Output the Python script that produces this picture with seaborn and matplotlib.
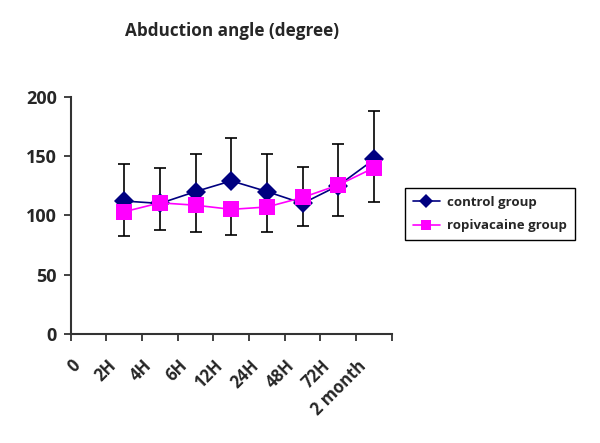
import numpy as np
import pandas as pd
import matplotlib.pyplot as plt
import matplotlib.transforms as mtransforms
import seaborn as sns

# time points (first category "0" has no data)
categories = ['0', '2H', '4H', '6H', '12H', '24H', '48H', '72H', '2 month']
time_points = ['2H', '4H', '6H', '12H', '24H', '48H', '72H', '2 month']

control = [112, 110, 120, 129, 120, 110, 125, 147]
ropivacaine = [103, 110.5, 108.5, 105, 107, 115, 125.5, 140]

# error bars: upper part shown for control, lower part for ropivacaine
control_err = [31, 30, 32, 36, 32, 31, 35, 41]
ropivacaine_err = [20.5, 23, 22.5, 21.5, 21, 24, 26, 28.5]

sns.set_style('white')
plt.rcParams['font.family'] = ['Open Sans', 'DejaVu Sans']

pos = [categories.index(t) for t in time_points]
df = pd.DataFrame({
    'x': pos * 2,
    'angle': control + ropivacaine,
    'group': ['control group'] * len(pos) + ['ropivacaine group'] * len(pos),
})

fig = plt.figure(figsize=(6, 4.43), dpi=100)
ax = fig.add_axes([0.118, 0.246, 0.535, 0.536])

# error bars first so markers sit on top
ax.errorbar(pos, control, yerr=[np.zeros(len(pos)), control_err], fmt='none',
            ecolor='black', elinewidth=1.2, capsize=4, capthick=1.2, zorder=1)
ax.errorbar(pos, ropivacaine, yerr=[ropivacaine_err, np.zeros(len(pos))], fmt='none',
            ecolor='black', elinewidth=1.2, capsize=4, capthick=1.2, zorder=1)

sns.lineplot(data=df, x='x', y='angle', hue='group', style='group',
             palette={'control group': '#000080', 'ropivacaine group': '#FF00FF'},
             markers={'control group': 'D', 'ropivacaine group': 's'},
             dashes=False, markersize=10, markeredgewidth=0, linewidth=1.2,
             ax=ax, zorder=3)
for line in ax.lines:
    if line.get_marker() == 's':
        line.set_markersize(12)

ax.set_xlim(-0.5, len(categories) - 0.5)
ax.set_ylim(0, 200)
ax.set_yticks([0, 50, 100, 150, 200])
ax.set_xticks(np.arange(-0.5, len(categories), 1.0))
ax.set_xticklabels([])
ax.set_xticks(range(len(categories)), minor=True)
ax.set_xticklabels(categories, minor=True, rotation=45, ha='right', va='center',
                   rotation_mode='anchor', fontsize=12, fontweight='bold')
ax.tick_params(axis='x', which='minor', length=0, pad=21)
ax.tick_params(axis='x', which='major', direction='out', length=5, width=1.3,
               color='#333333', bottom=True)
ax.tick_params(axis='y', direction='out', length=5, width=1.3, color='#333333',
               left=True, labelsize=13, pad=5)
for lbl in ax.get_yticklabels():
    lbl.set_fontweight('bold')
shift = mtransforms.ScaledTranslation(-0.11, 0, fig.dpi_scale_trans)
for lbl in ax.get_xticklabels(minor=True):
    lbl.set_transform(lbl.get_transform() + shift)

sns.despine(ax=ax)
for s in ['left', 'bottom']:
    ax.spines[s].set_linewidth(1.5)
    ax.spines[s].set_color('#333333')

ax.set_xlabel('')
ax.set_ylabel('')

fig.text(0.387, 0.93, 'Abduction angle (degree)', ha='center', va='center',
         fontsize=12.3, fontweight='bold')

leg = ax.legend(loc='upper left', bbox_to_anchor=(1.04, 0.615), borderaxespad=0,
                frameon=True, fancybox=False, edgecolor='black', framealpha=1,
                prop={'weight': 'bold', 'size': 9.5}, handlelength=2.1,
                handletextpad=0.5, borderpad=0.6, labelspacing=0.8)
leg.get_frame().set_linewidth(1.0)
for h in leg.legend_handles:
    h.set_markersize(7)

fig.savefig('out.png', dpi=100)
